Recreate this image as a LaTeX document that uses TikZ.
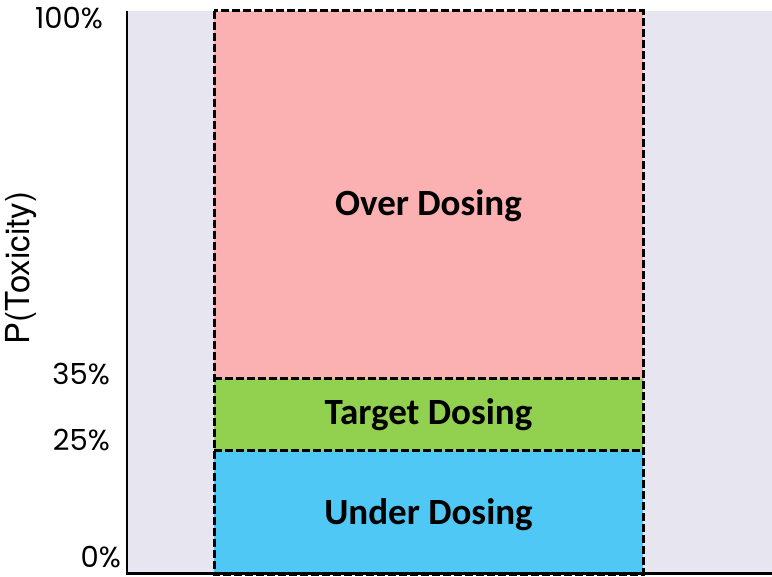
\documentclass[tikz,border=0pt]{standalone}
\usepackage{fontspec}
\setmainfont{Carlito}
\newfontfamily\tickfont{Poppins}
\newfontfamily\axisfont{TeX Gyre Heros}
\definecolor{panel}{HTML}{E7E6F0}
\definecolor{overc}{HTML}{FBB1B1}
\definecolor{targetc}{HTML}{92D050}
\definecolor{underc}{HTML}{4FC8F5}
\tikzset{
  zone/.style={draw=black, line width=3pt, dash pattern=on 8pt off 3pt},
  zonelabel/.style={font=\bfseries\fontsize{37}{40}\selectfont, text=black},
  ticklabel/.style={font=\tickfont\fontsize{29}{32}\selectfont, anchor=base east,
    inner sep=0pt, text depth=0pt},
}
\begin{document}
\begin{tikzpicture}[x=1pt,y=-1pt]
  \useasboundingbox (0,0) rectangle (772,577);
  % chart panel
  \fill[panel] (127,11) rectangle (772,573);
  % dosing zones
  \fill[overc] (214,11) rectangle (643,379);
  \fill[targetc] (214,379) rectangle (643,451);
  \fill[underc] (214,451) rectangle (643,574);
  \coordinate (tl) at (214,11);
  \coordinate (br) at (643,574);
  \coordinate (b35l) at (214,379);
  \coordinate (b35r) at (643,379);
  \coordinate (b25l) at (214,451);
  \coordinate (b25r) at (643,451);
  \draw[zone] (tl) rectangle (br);
  \draw[zone] (b35l) -- (b35r);
  \draw[zone] (b25l) -- (b25r);
  \node[zonelabel] (over) at (428.5,206) {Over Dosing};
  \node[zonelabel] (target) at (428.5,415) {Target Dosing};
  \node[zonelabel] (under) at (428.5,515) {Under Dosing};
  % axes
  \draw[line width=1.8pt] (127,11) -- (127,574);
  \draw[line width=2.6pt] (126,573.5) -- (772,573.5);
  % tick labels
  \node[ticklabel] (t100) at (103,29) {100\%};
  \node[ticklabel] (t35) at (110,385) {35\%};
  \node[ticklabel] (t25) at (110,451) {25\%};
  \node[ticklabel] (t0) at (121,567) {0\%};
  % axis title
  \node[font=\axisfont\fontsize{33}{36}\selectfont, rotate=90] (ylab) at (21,268) {P(Toxicity)};
\end{tikzpicture}
\end{document}
